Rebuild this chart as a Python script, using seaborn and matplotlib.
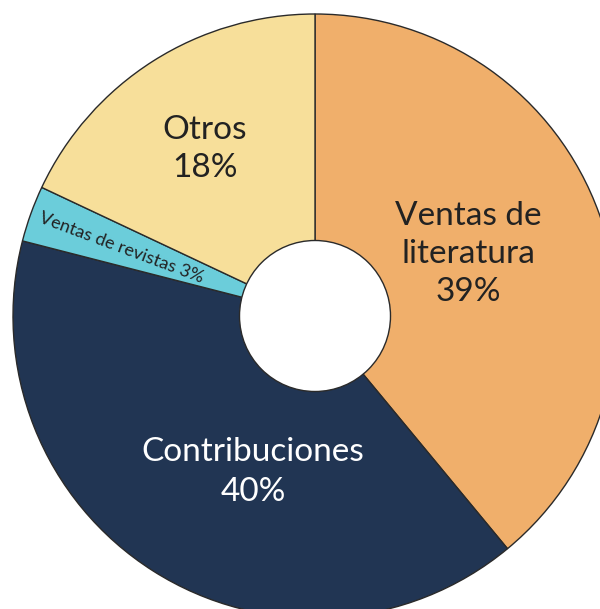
import matplotlib
matplotlib.use("Agg")
import matplotlib.pyplot as plt
import seaborn as sns

categories = ["Ventas de literatura", "Contribuciones", "Ventas de revistas", "Otros"]
values = [39, 40, 3, 18]
colors = ["#F0AF6B", "#213553", "#6BCDDA", "#F7DF9A"]

sns.set_theme(style="white")
plt.rcParams['font.family'] = ['Lato', 'DejaVu Sans']

W, H = 600, 609
fig = plt.figure(figsize=(W / 100, H / 100), dpi=100)
ax = fig.add_axes([0, 0, 1, 1])
ax.axis("off")

cx, cy, R = 315, 316, 302  # pixel geometry

def pdata(px, py):
    return (px - cx) / R, (cy - py) / R

ax.pie(values, colors=colors, startangle=90, counterclock=False, radius=1,
       wedgeprops=dict(edgecolor="#2a2a2a", linewidth=1.0))
hole = plt.Circle((0, 0), 0.25, facecolor="white", edgecolor="#2a2a2a", linewidth=1.0)
ax.add_patch(hole)

ax.set_xlim(-cx / R, (W - cx) / R)
ax.set_ylim(-(H - cy) / R, cy / R)
ax.set_aspect("equal", adjustable="datalim")

txt = "#222222"
ax.text(*pdata(468, 254), "Ventas de\nliteratura\n39%", ha="center", va="center",
        fontsize=24, color=txt, linespacing=1.32)
ax.text(*pdata(253, 472), "Contribuciones\n40%", ha="center", va="center",
        fontsize=24, color="white", linespacing=1.38)
ax.text(*pdata(205, 149), "Otros\n18%", ha="center", va="center",
        fontsize=24, color=txt, linespacing=1.3)
ax.text(*pdata(121, 248), "Ventas de revistas 3%", ha="center", va="center",
        fontsize=13, color=txt, rotation=-20.5, rotation_mode="anchor")

fig.savefig("out.png", dpi=100)
